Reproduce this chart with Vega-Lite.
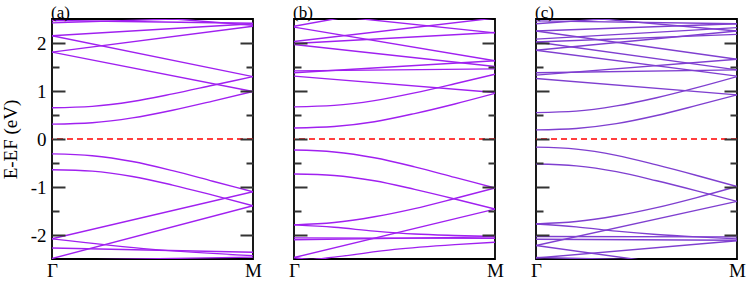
{
  "$schema": "https://vega.github.io/schema/vega-lite/v6.json",
  "padding": {"left": 0, "top": 3, "right": 0, "bottom": 0},
  "bounds": "flush",
  "spacing": 41,
  "config": {
    "view": {"stroke": "black", "strokeWidth": 1.8},
    "font": "'Liberation Serif', 'Times New Roman', 'DejaVu Serif', serif",
    "title": {"font": "'Liberation Serif', 'Times New Roman', 'DejaVu Serif', serif", "fontSize": 17, "fontWeight": "normal", "anchor": "start", "frame": "group", "offset": -3},
    "axis": {"labelFont": "'Liberation Serif', 'Times New Roman', 'DejaVu Serif', serif", "titleFont": "'Liberation Serif', 'Times New Roman', 'DejaVu Serif', serif"}
  },
  "datasets": {
    "a": [
      {"band": "c1", "x": 0, "e": 0.65}, {"band": "c1", "x": 0.2, "e": 0.68}, {"band": "c1", "x": 0.4, "e": 0.78}, {"band": "c1", "x": 0.6, "e": 0.94}, {"band": "c1", "x": 0.8, "e": 1.12}, {"band": "c1", "x": 1, "e": 1.30},
      {"band": "c2", "x": 0, "e": 0.31}, {"band": "c2", "x": 0.2, "e": 0.34}, {"band": "c2", "x": 0.4, "e": 0.44}, {"band": "c2", "x": 0.6, "e": 0.60}, {"band": "c2", "x": 0.8, "e": 0.79}, {"band": "c2", "x": 1, "e": 0.99},
      {"band": "d1", "x": 0, "e": 2.15}, {"band": "d1", "x": 1, "e": 1.30},
      {"band": "d2", "x": 0, "e": 1.81}, {"band": "d2", "x": 1, "e": 0.99},
      {"band": "u1", "x": 0, "e": 1.81}, {"band": "u1", "x": 1, "e": 2.35},
      {"band": "u2", "x": 0, "e": 2.15}, {"band": "u2", "x": 1, "e": 2.40},
      {"band": "t1", "x": 0, "e": 2.47}, {"band": "t1", "x": 1, "e": 2.41},
      {"band": "t2", "x": 0, "e": 2.42}, {"band": "t2", "x": 1, "e": 2.55},
      {"band": "t3", "x": 0, "e": 2.70}, {"band": "t3", "x": 1, "e": 2.37},
      {"band": "v1", "x": 0, "e": -0.31}, {"band": "v1", "x": 0.2, "e": -0.35}, {"band": "v1", "x": 0.4, "e": -0.47}, {"band": "v1", "x": 0.6, "e": -0.66}, {"band": "v1", "x": 0.8, "e": -0.88}, {"band": "v1", "x": 1, "e": -1.10},
      {"band": "v2", "x": 0, "e": -0.64}, {"band": "v2", "x": 0.2, "e": -0.67}, {"band": "v2", "x": 0.4, "e": -0.78}, {"band": "v2", "x": 0.6, "e": -0.96}, {"band": "v2", "x": 0.8, "e": -1.17}, {"band": "v2", "x": 1, "e": -1.39},
      {"band": "r1", "x": 0, "e": -2.08}, {"band": "r1", "x": 1, "e": -1.10},
      {"band": "r2", "x": 0, "e": -2.49}, {"band": "r2", "x": 1, "e": -1.39},
      {"band": "b1", "x": 0, "e": -2.08}, {"band": "b1", "x": 0.5, "e": -2.30}, {"band": "b1", "x": 1, "e": -2.43},
      {"band": "b2", "x": 0, "e": -2.27}, {"band": "b2", "x": 1, "e": -2.36},
      {"band": "b3", "x": 0, "e": -2.53}, {"band": "b3", "x": 1, "e": -2.46}
    ],
    "b": [
      {"band": "c1", "x": 0, "e": 0.67}, {"band": "c1", "x": 0.2, "e": 0.70}, {"band": "c1", "x": 0.4, "e": 0.80}, {"band": "c1", "x": 0.6, "e": 0.96}, {"band": "c1", "x": 0.8, "e": 1.15}, {"band": "c1", "x": 1, "e": 1.35},
      {"band": "c2", "x": 0, "e": 0.23}, {"band": "c2", "x": 0.2, "e": 0.26}, {"band": "c2", "x": 0.4, "e": 0.36}, {"band": "c2", "x": 0.6, "e": 0.53}, {"band": "c2", "x": 0.8, "e": 0.73}, {"band": "c2", "x": 1, "e": 0.95},
      {"band": "u1", "x": 0, "e": 2.35}, {"band": "u1", "x": 1, "e": 3.10},
      {"band": "u2", "x": 0, "e": 2.65}, {"band": "u2", "x": 1, "e": 2.21},
      {"band": "u3", "x": 0, "e": 2.33}, {"band": "u3", "x": 1, "e": 1.63},
      {"band": "u4", "x": 0, "e": 2.03}, {"band": "u4", "x": 1, "e": 2.52},
      {"band": "u5", "x": 0, "e": 1.99}, {"band": "u5", "x": 1, "e": 2.22},
      {"band": "u6", "x": 0, "e": 1.97}, {"band": "u6", "x": 1, "e": 1.51},
      {"band": "u7", "x": 0, "e": 1.42}, {"band": "u7", "x": 1, "e": 1.46},
      {"band": "u8", "x": 0, "e": 1.38}, {"band": "u8", "x": 1, "e": 1.63},
      {"band": "u9", "x": 0, "e": 1.31}, {"band": "u9", "x": 1, "e": 0.97},
      {"band": "v1", "x": 0, "e": -0.23}, {"band": "v1", "x": 0.2, "e": -0.27}, {"band": "v1", "x": 0.4, "e": -0.39}, {"band": "v1", "x": 0.6, "e": -0.58}, {"band": "v1", "x": 0.8, "e": -0.80}, {"band": "v1", "x": 1, "e": -1.02},
      {"band": "v2", "x": 0, "e": -0.73}, {"band": "v2", "x": 0.2, "e": -0.76}, {"band": "v2", "x": 0.4, "e": -0.87}, {"band": "v2", "x": 0.6, "e": -1.05}, {"band": "v2", "x": 0.8, "e": -1.25}, {"band": "v2", "x": 1, "e": -1.46},
      {"band": "r1", "x": 0, "e": -1.79}, {"band": "r1", "x": 0.2, "e": -1.74}, {"band": "r1", "x": 0.4, "e": -1.62}, {"band": "r1", "x": 0.6, "e": -1.45}, {"band": "r1", "x": 0.8, "e": -1.24}, {"band": "r1", "x": 1, "e": -1.02},
      {"band": "r2", "x": 0, "e": -2.47}, {"band": "r2", "x": 1, "e": -1.46},
      {"band": "d1", "x": 0, "e": -1.79}, {"band": "d1", "x": 0.2, "e": -1.84}, {"band": "d1", "x": 0.4, "e": -1.92}, {"band": "d1", "x": 0.6, "e": -1.98}, {"band": "d1", "x": 0.8, "e": -2.01}, {"band": "d1", "x": 1, "e": -2.03},
      {"band": "f1", "x": 0, "e": -2.06}, {"band": "f1", "x": 1, "e": -2.07},
      {"band": "f2", "x": 0, "e": -2.10}, {"band": "f2", "x": 1, "e": -2.04},
      {"band": "lo", "x": 0, "e": -2.47}, {"band": "lo", "x": 0.08, "e": -2.51}, {"band": "lo", "x": 0.2, "e": -2.46}, {"band": "lo", "x": 0.5, "e": -2.30}, {"band": "lo", "x": 0.8, "e": -2.20}, {"band": "lo", "x": 1, "e": -2.15}
    ],
    "c": [
      {"band": "c1", "x": 0, "e": 0.55}, {"band": "c1", "x": 0.2, "e": 0.58}, {"band": "c1", "x": 0.4, "e": 0.69}, {"band": "c1", "x": 0.6, "e": 0.86}, {"band": "c1", "x": 0.8, "e": 1.07}, {"band": "c1", "x": 1, "e": 1.30},
      {"band": "c2", "x": 0, "e": 0.19}, {"band": "c2", "x": 0.2, "e": 0.22}, {"band": "c2", "x": 0.4, "e": 0.32}, {"band": "c2", "x": 0.6, "e": 0.49}, {"band": "c2", "x": 0.8, "e": 0.70}, {"band": "c2", "x": 1, "e": 0.92},
      {"band": "u1", "x": 0, "e": 2.46}, {"band": "u1", "x": 1, "e": 2.40},
      {"band": "u2", "x": 0, "e": 2.40}, {"band": "u2", "x": 1, "e": 2.70},
      {"band": "u3", "x": 0, "e": 2.62}, {"band": "u3", "x": 1, "e": 2.25},
      {"band": "u4", "x": 0, "e": 2.25}, {"band": "u4", "x": 1, "e": 2.40},
      {"band": "u5", "x": 0, "e": 2.25}, {"band": "u5", "x": 1, "e": 1.66},
      {"band": "u6", "x": 0, "e": 2.08}, {"band": "u6", "x": 1, "e": 2.32},
      {"band": "u7", "x": 0, "e": 2.02}, {"band": "u7", "x": 1, "e": 2.18},
      {"band": "u8", "x": 0, "e": 1.85}, {"band": "u8", "x": 1, "e": 2.25},
      {"band": "u9", "x": 0, "e": 1.85}, {"band": "u9", "x": 1, "e": 1.31},
      {"band": "u10", "x": 0, "e": 2.02}, {"band": "u10", "x": 1, "e": 1.44},
      {"band": "u11", "x": 0, "e": 1.38}, {"band": "u11", "x": 1, "e": 1.44},
      {"band": "u12", "x": 0, "e": 1.33}, {"band": "u12", "x": 1, "e": 1.66},
      {"band": "u13", "x": 0, "e": 1.26}, {"band": "u13", "x": 1, "e": 0.92},
      {"band": "v1", "x": 0, "e": -0.17}, {"band": "v1", "x": 0.2, "e": -0.21}, {"band": "v1", "x": 0.4, "e": -0.34}, {"band": "v1", "x": 0.6, "e": -0.54}, {"band": "v1", "x": 0.8, "e": -0.76}, {"band": "v1", "x": 1, "e": -0.99},
      {"band": "v2", "x": 0, "e": -0.52}, {"band": "v2", "x": 0.2, "e": -0.56}, {"band": "v2", "x": 0.4, "e": -0.68}, {"band": "v2", "x": 0.6, "e": -0.87}, {"band": "v2", "x": 0.8, "e": -1.08}, {"band": "v2", "x": 1, "e": -1.30},
      {"band": "r1", "x": 0, "e": -1.77}, {"band": "r1", "x": 0.2, "e": -1.72}, {"band": "r1", "x": 0.4, "e": -1.60}, {"band": "r1", "x": 0.6, "e": -1.43}, {"band": "r1", "x": 0.8, "e": -1.22}, {"band": "r1", "x": 1, "e": -0.99},
      {"band": "r2", "x": 0, "e": -2.22}, {"band": "r2", "x": 1, "e": -1.30},
      {"band": "d1", "x": 0, "e": -1.77}, {"band": "d1", "x": 0.2, "e": -1.83}, {"band": "d1", "x": 0.4, "e": -1.92}, {"band": "d1", "x": 0.6, "e": -1.99}, {"band": "d1", "x": 0.8, "e": -2.04}, {"band": "d1", "x": 1, "e": -2.08},
      {"band": "f1", "x": 0, "e": -2.03}, {"band": "f1", "x": 1, "e": -2.04},
      {"band": "f2", "x": 0, "e": -2.09}, {"band": "f2", "x": 1, "e": -2.11},
      {"band": "b1", "x": 0, "e": -2.22}, {"band": "b1", "x": 0.5, "e": -2.51}, {"band": "b1", "x": 1, "e": -2.80},
      {"band": "b2", "x": 0, "e": -2.48}, {"band": "b2", "x": 1, "e": -2.12},
      {"band": "b3", "x": 0, "e": -2.47}, {"band": "b3", "x": 1, "e": -2.56}
    ]
  },
  "hconcat": [
    {
      "width": 201, "height": 240,
      "title": {"text": "(a)", "dx": -1},
      "layer": [
        {
          "data": {"name": "a"},
          "mark": {"type": "line", "interpolate": "monotone", "clip": true, "strokeWidth": 1.4, "color": "#a020f0"},
          "encoding": {
            "x": {"field": "x", "type": "quantitative", "scale": {"domain": [0, 1], "nice": false, "zero": false},
                  "axis": {"values": [0, 1], "labelExpr": "datum.value === 0 ? 'Γ' : 'M'", "ticks": false, "domain": false, "grid": false, "labelFlush": false, "labelFontSize": 19, "labelPadding": 2, "labelColor": "black", "title": null}},
            "y": {"field": "e", "type": "quantitative", "scale": {"domain": [-2.5, 2.5], "nice": false, "zero": false},
                  "axis": {"orient": "left", "values": [-2, -1.5, -1, -0.5, 0, 0.5, 1, 1.5, 2], "labelExpr": "datum.value % 1 !== 0 ? '' : (datum.value < 0 ? '-' + abs(datum.value) : '' + datum.value)",
                           "tickSize": {"condition": {"test": "datum.value % 1 === 0", "value": -13}, "value": -7}, "tickWidth": 2, "tickColor": "#333", "domain": false, "grid": false, "zindex": 1,
                           "labelFontSize": 19, "labelColor": "black", "labelPadding": 19,
                           "title": "E-EF (eV)", "titleFontSize": 19, "titleFontWeight": "normal", "titleColor": "black", "titlePadding": 10}},
            "detail": {"field": "band"}
          }
        },
        {
          "data": {"values": [{}]},
          "mark": {"type": "rule", "color": "#ff0000", "strokeDash": [6, 4], "strokeWidth": 1.4},
          "encoding": {
            "y": {"datum": 0, "type": "quantitative",
                  "axis": {"orient": "right", "values": [-2, -1.5, -1, -0.5, 0, 0.5, 1, 1.5, 2], "labels": false,
                           "tickSize": {"condition": {"test": "datum.value % 1 === 0", "value": -13}, "value": -7}, "tickWidth": 2, "tickColor": "#333", "domain": false, "grid": false, "zindex": 1, "title": null}}
          }
        }
      ],
      "resolve": {"axis": {"y": "independent"}}
    },
    {
      "width": 201, "height": 240,
      "title": {"text": "(b)", "dx": -1},
      "layer": [
        {
          "data": {"name": "b"},
          "mark": {"type": "line", "interpolate": "monotone", "clip": true, "strokeWidth": 1.4, "color": "#a020f0"},
          "encoding": {
            "x": {"field": "x", "type": "quantitative", "scale": {"domain": [0, 1], "nice": false, "zero": false},
                  "axis": {"values": [0, 1], "labelExpr": "datum.value === 0 ? 'Γ' : 'M'", "ticks": false, "domain": false, "grid": false, "labelFlush": false, "labelFontSize": 19, "labelPadding": 2, "labelColor": "black", "title": null}},
            "y": {"field": "e", "type": "quantitative", "scale": {"domain": [-2.5, 2.5], "nice": false, "zero": false},
                  "axis": {"orient": "left", "values": [-2, -1.5, -1, -0.5, 0, 0.5, 1, 1.5, 2], "labels": false,
                           "tickSize": {"condition": {"test": "datum.value % 1 === 0", "value": -13}, "value": -7}, "tickWidth": 2, "tickColor": "#333", "domain": false, "grid": false, "zindex": 1, "title": null}},
            "detail": {"field": "band"}
          }
        },
        {
          "data": {"values": [{}]},
          "mark": {"type": "rule", "color": "#ff0000", "strokeDash": [6, 4], "strokeWidth": 1.4},
          "encoding": {
            "y": {"datum": 0, "type": "quantitative",
                  "axis": {"orient": "right", "values": [-2, -1.5, -1, -0.5, 0, 0.5, 1, 1.5, 2], "labels": false,
                           "tickSize": {"condition": {"test": "datum.value % 1 === 0", "value": -13}, "value": -7}, "tickWidth": 2, "tickColor": "#333", "domain": false, "grid": false, "zindex": 1, "title": null}}
          }
        }
      ],
      "resolve": {"axis": {"y": "independent"}}
    },
    {
      "width": 201, "height": 240,
      "title": {"text": "(c)", "dx": -1},
      "layer": [
        {
          "data": {"name": "c"},
          "mark": {"type": "line", "interpolate": "monotone", "clip": true, "strokeWidth": 1.4, "color": "#7f3fd0"},
          "encoding": {
            "x": {"field": "x", "type": "quantitative", "scale": {"domain": [0, 1], "nice": false, "zero": false},
                  "axis": {"values": [0, 1], "labelExpr": "datum.value === 0 ? 'Γ' : 'M'", "ticks": false, "domain": false, "grid": false, "labelFlush": false, "labelFontSize": 19, "labelPadding": 2, "labelColor": "black", "title": null}},
            "y": {"field": "e", "type": "quantitative", "scale": {"domain": [-2.5, 2.5], "nice": false, "zero": false},
                  "axis": {"orient": "left", "values": [-2, -1.5, -1, -0.5, 0, 0.5, 1, 1.5, 2], "labels": false,
                           "tickSize": {"condition": {"test": "datum.value % 1 === 0", "value": -13}, "value": -7}, "tickWidth": 2, "tickColor": "#333", "domain": false, "grid": false, "zindex": 1, "title": null}},
            "detail": {"field": "band"}
          }
        },
        {
          "data": {"values": [{}]},
          "mark": {"type": "rule", "color": "#ff0000", "strokeDash": [6, 4], "strokeWidth": 1.4},
          "encoding": {
            "y": {"datum": 0, "type": "quantitative",
                  "axis": {"orient": "right", "values": [-2, -1.5, -1, -0.5, 0, 0.5, 1, 1.5, 2], "labels": false,
                           "tickSize": {"condition": {"test": "datum.value % 1 === 0", "value": -13}, "value": -7}, "tickWidth": 2, "tickColor": "#333", "domain": false, "grid": false, "zindex": 1, "title": null}}
          }
        }
      ],
      "resolve": {"axis": {"y": "independent"}}
    }
  ]
}
